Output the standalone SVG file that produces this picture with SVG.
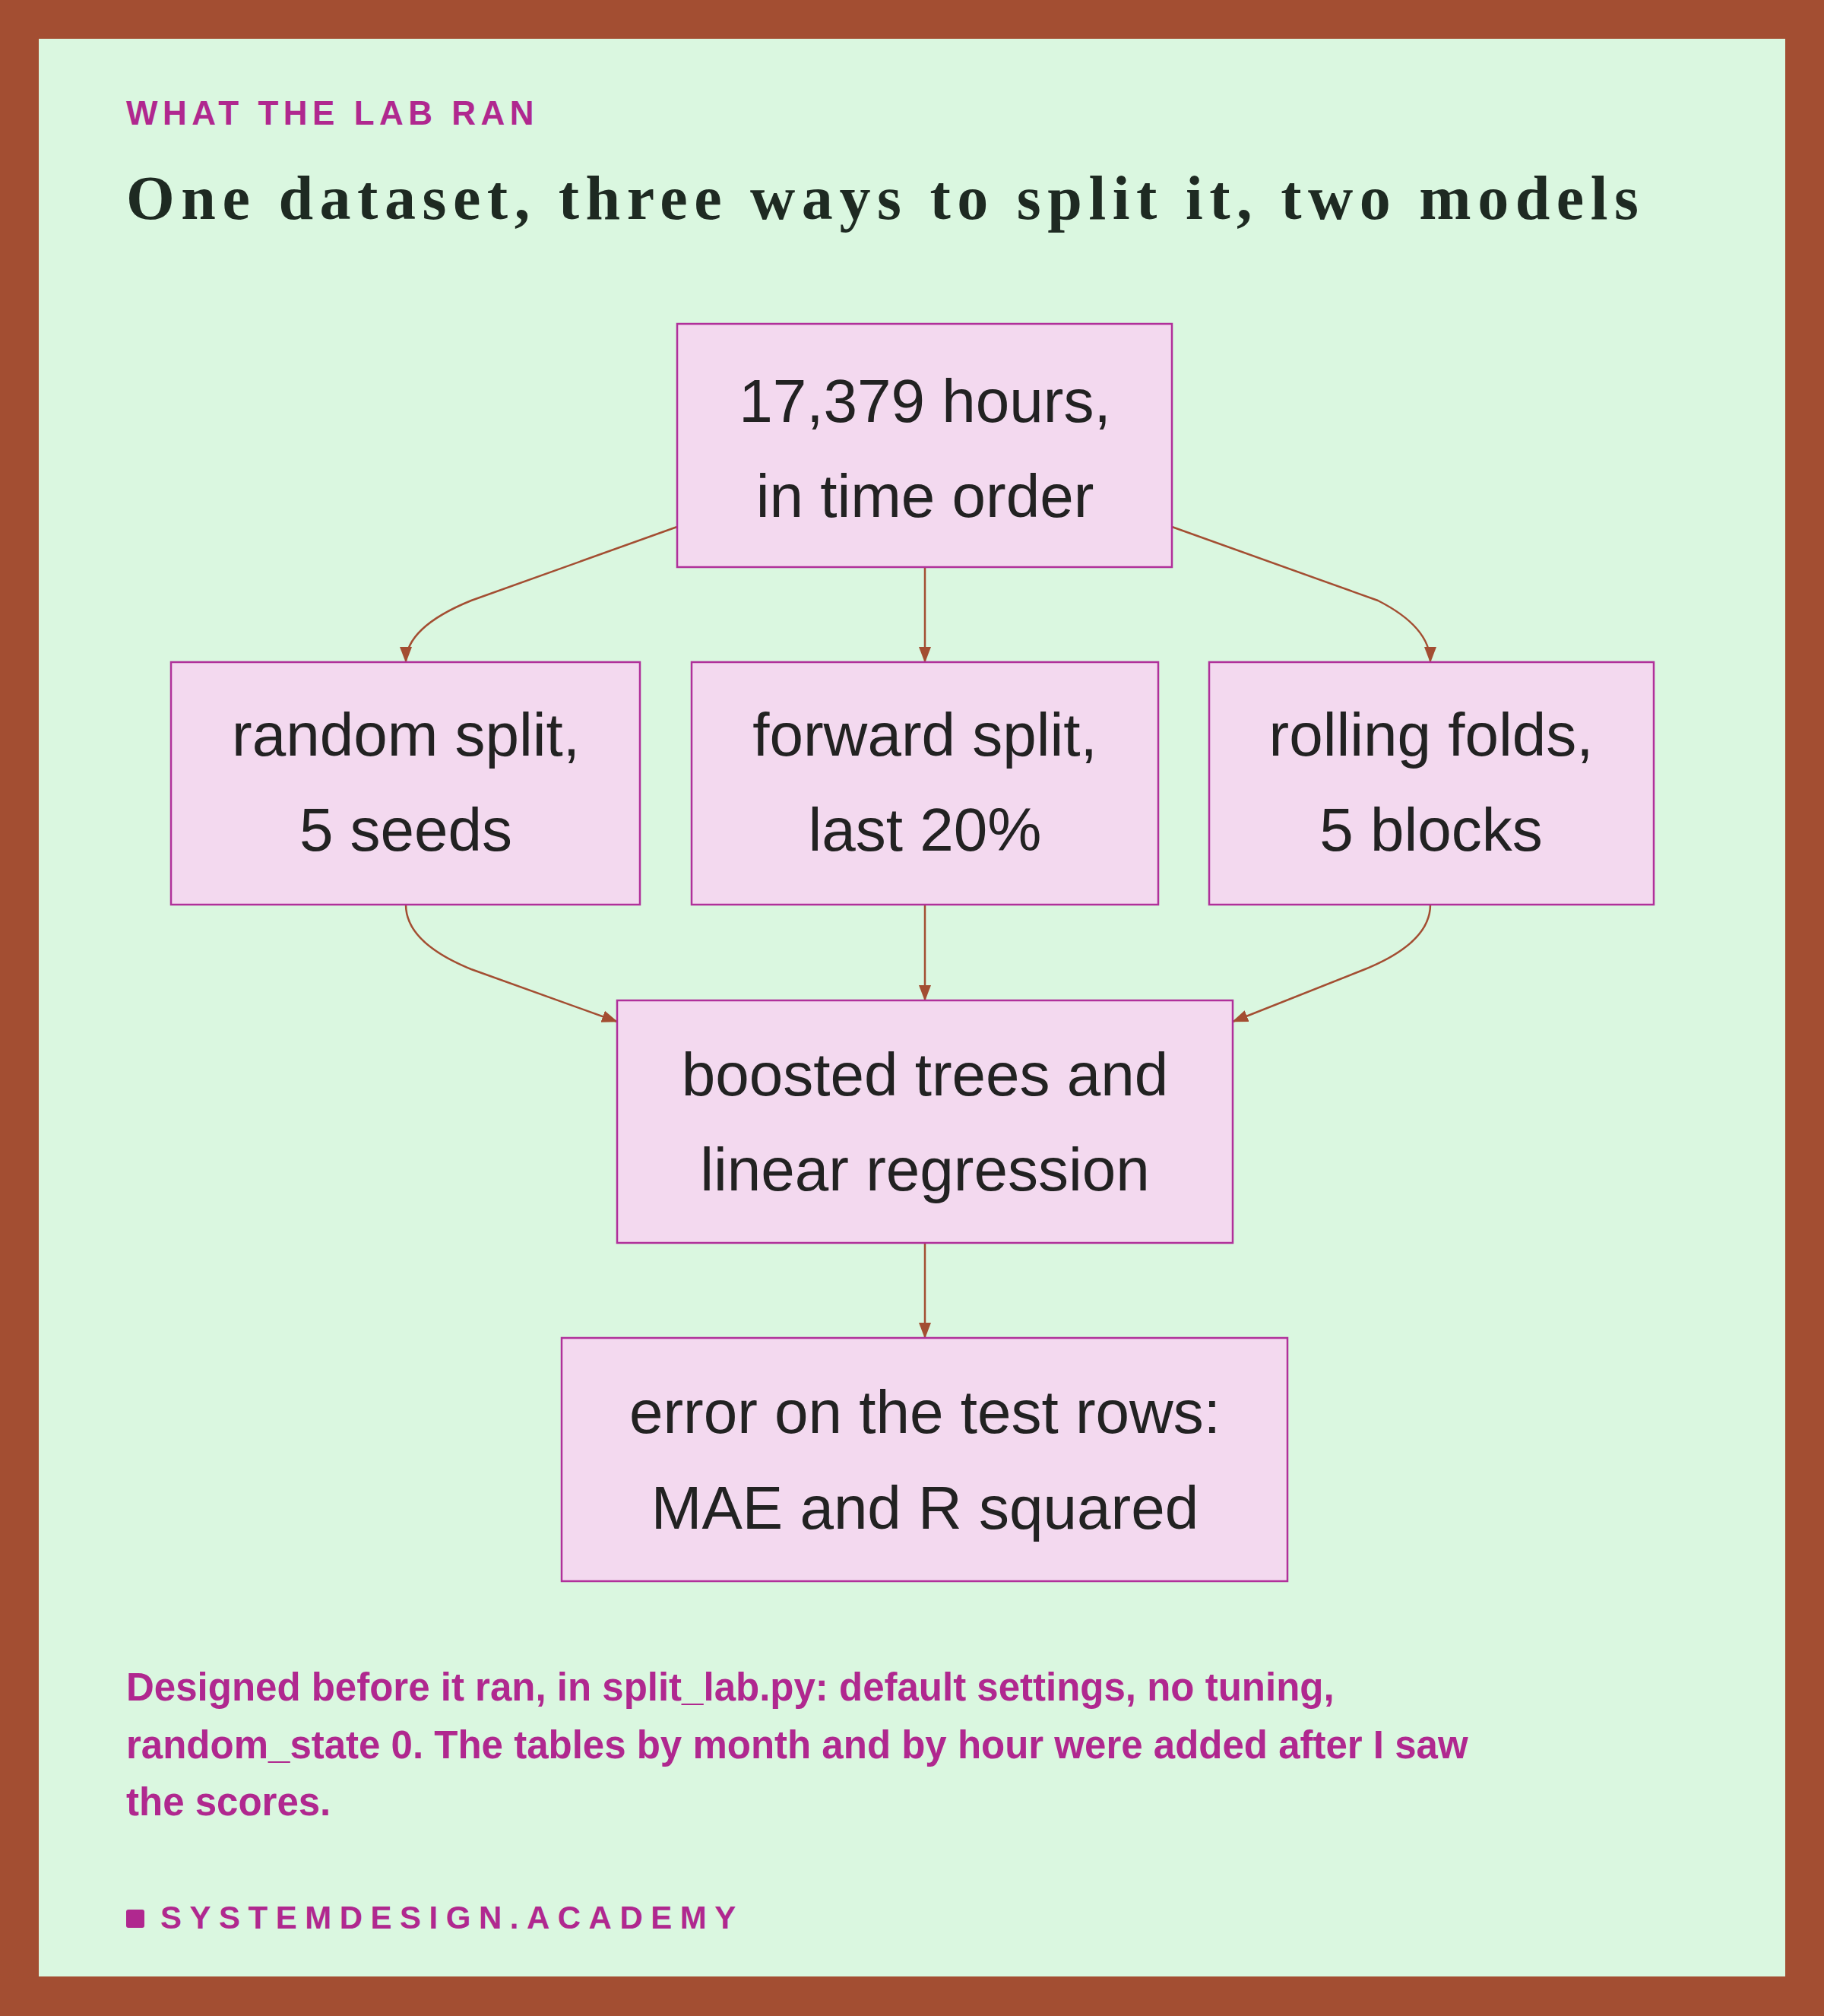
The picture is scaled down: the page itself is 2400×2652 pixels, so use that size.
<svg xmlns="http://www.w3.org/2000/svg" width="2400" height="2652" viewBox="0 0 2400 2652">
<style>
.box{fill:#F3D9EF;stroke:#B0309A;stroke-width:2.5}
.t{font-family:"Liberation Sans",Arial,sans-serif;font-size:80px;fill:#222;text-anchor:middle}
.c{fill:none;stroke:#A34E32;stroke-width:2.5}
.m{font-family:"Liberation Sans",Arial,sans-serif;font-weight:bold;fill:#B0288F}
</style>
<defs><marker id="a" markerWidth="12" markerHeight="12" refX="10" refY="6" orient="auto" markerUnits="userSpaceOnUse" viewBox="0 0 12 12"><path d="M0,0 L12,6 L0,12 z" fill="#A34E32" transform="scale(1.8) translate(-5.3,-2.7)"/></marker>
<marker id="b" markerWidth="22" markerHeight="22" refX="20" refY="11" orient="auto" markerUnits="userSpaceOnUse"><path d="M0,3 L21,11 L0,19 z" fill="#A34E32"/></marker></defs>
<rect width="2400" height="2652" fill="#A34E32"/>
<rect x="51" y="51" width="2298" height="2549" fill="#DAF7E0"/>
<text class="m" x="166" y="164" font-size="44" letter-spacing="6.5">WHAT THE LAB RAN</text>
<text x="166" y="288" font-family="'Liberation Serif','Times New Roman',serif" font-weight="bold" font-size="82" fill="#1E2A22" textLength="1990">One dataset, three ways to split it, two models</text>
<g id="connectors">
<path class="c" marker-end="url(#b)" d="M891,693 L620,790 Q534,825 534,871"/>
<path class="c" marker-end="url(#b)" d="M1217,746 L1217,871"/>
<path class="c" marker-end="url(#b)" d="M1542,693 L1813,790 Q1882,825 1882,871"/>
<path class="c" marker-end="url(#b)" d="M534,1190 Q534,1240 620,1275 L812,1344"/>
<path class="c" marker-end="url(#b)" d="M1217,1190 L1217,1316"/>
<path class="c" marker-end="url(#b)" d="M1882,1190 Q1882,1240 1796,1275 L1622,1344"/>
<path class="c" marker-end="url(#b)" d="M1217,1635 L1217,1760"/>
</g>
<g id="n1"><rect class="box" x="891" y="426" width="651" height="320"/><text class="t" x="1217" y="555">17,379 hours,</text><text class="t" x="1217" y="680">in time order</text></g>
<g id="n2"><rect class="box" x="225" y="871" width="617" height="319"/><text class="t" x="534" y="994">random split,</text><text class="t" x="534" y="1119">5 seeds</text></g>
<g id="n3"><rect class="box" x="910" y="871" width="614" height="319"/><text class="t" x="1217" y="994">forward split,</text><text class="t" x="1217" y="1119">last 20%</text></g>
<g id="n4"><rect class="box" x="1591" y="871" width="585" height="319"/><text class="t" x="1883" y="994">rolling folds,</text><text class="t" x="1883" y="1119">5 blocks</text></g>
<g id="n5"><rect class="box" x="812" y="1316" width="810" height="319"/><text class="t" x="1217" y="1441">boosted trees and</text><text class="t" x="1217" y="1566">linear regression</text></g>
<g id="n6"><rect class="box" x="739" y="1760" width="955" height="320"/><text class="t" x="1217" y="1885">error on the test rows:</text><text class="t" x="1217" y="2011">MAE and R squared</text></g>
<text class="m" font-size="51" x="166" y="2237">Designed before it ran, in split_lab.py: default settings, no tuning,</text>
<text class="m" font-size="51" x="166" y="2313">random_state 0. The tables by month and by hour were added after I saw</text>
<text class="m" font-size="51" x="166" y="2388">the scores.</text>
<rect x="166" y="2512" width="24" height="24" fill="#B0288F" rx="3"/>
<text class="m" font-size="42" x="211" y="2537" letter-spacing="10.5">SYSTEMDESIGN.ACADEMY</text>
</svg>
